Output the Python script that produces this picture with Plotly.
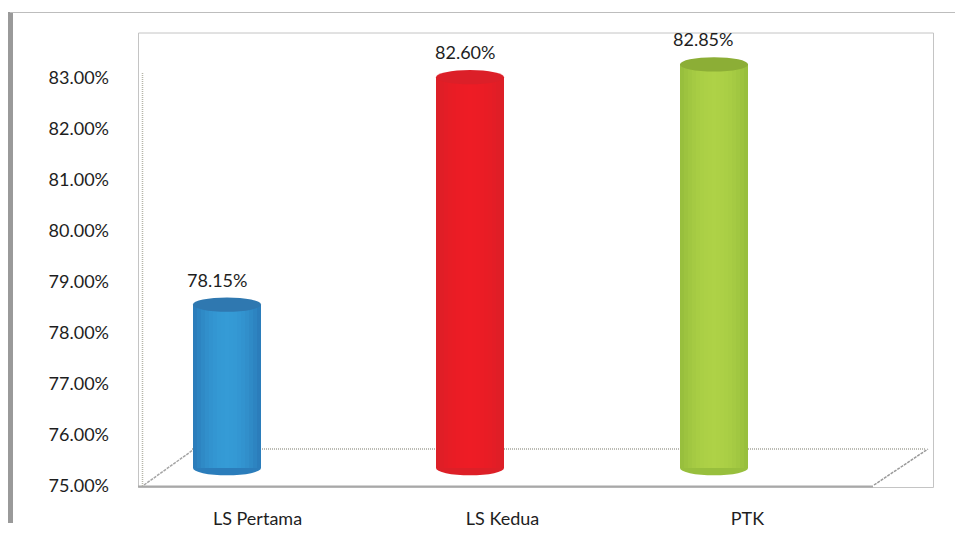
import plotly.graph_objects as go

categories = ["LS Pertama", "LS Kedua", "PTK"]
values = [78.15, 82.60, 82.85]
tick_values = [75, 76, 77, 78, 79, 80, 81, 82, 83]
tick_labels = ["75.00%", "76.00%", "77.00%", "78.00%", "79.00%", "80.00%", "81.00%", "82.00%", "83.00%"]
value_labels = ["78.15%", "82.60%", "82.85%"]

W, H = 955, 551
L, R, T, B = 135, 870, 33, 486
UNIT_PX = 51.1
ymax = 75 + (B - T) / UNIT_PX
xunit = (R - L) / 3

LIFT = 0.4        # 3-D lift of the bar top above its value
FLOOR = 75.35     # where the cylinders stand
CAP_H = 0.14
BAR_W = 68 / xunit
SHIFT = [-30.5 / xunit, -32.5 / xunit, -33.5 / xunit]
LABEL_SHIFT = [-41 / xunit, -37.5 / xunit, -45 / xunit]

edge_colors = [(0x2b, 0x7d, 0xbb), (0xdd, 0x1f, 0x27), (0x98, 0xbf, 0x3d)]
mid_colors = [(0x35, 0x9b, 0xd6), (0xee, 0x1c, 0x25), (0xae, 0xd2, 0x47)]
caps = ["#2f78b0", "#dc1f28", "#8cae36"]
N = 17


def shade(i, k):
    t = abs(k - (N - 1) / 2) / ((N - 1) / 2)
    t = t ** 2
    return "rgb(%d,%d,%d)" % tuple(m + (e - m) * t for m, e in zip(mid_colors[i], edge_colors[i]))


fig = go.Figure()
for k in range(N):
    fig.add_trace(go.Bar(
        x=categories,
        y=[v + LIFT - FLOOR for v in values],
        base=[FLOOR] * 3,
        width=[BAR_W / N * 1.05] * 3,
        offset=[s - BAR_W / 2 + k * BAR_W / N for s in SHIFT],
        marker=dict(color=[shade(i, k) for i in range(3)], line_width=0),
        showlegend=False,
        hoverinfo="skip",
    ))


def px_x(p):
    return (p - L) / (R - L)


def px_y(p):
    return (B - p) / (B - T)


shapes = [
    # page rules
    dict(type="rect", xref="paper", yref="paper", x0=px_x(8), x1=px_x(13), y0=px_y(523), y1=px_y(12),
         fillcolor="#9a9a9a", line_width=0, layer="below"),
    dict(type="line", xref="paper", yref="paper", x0=px_x(10), x1=px_x(955), y0=px_y(12.5), y1=px_y(12.5),
         line=dict(color="#bdbdbd", width=1), layer="below"),
    # chart frame
    dict(type="rect", xref="paper", yref="paper", x0=px_x(138.5), x1=px_x(933.5), y0=px_y(487.5), y1=px_y(33),
         line=dict(color="#c4c4c4", width=1), layer="below"),
    # 3-D floor and wall
    dict(type="line", xref="paper", yref="paper", x0=px_x(138), x1=px_x(873), y0=px_y(486.5), y1=px_y(486.5),
         line=dict(color="#a8a8a8", width=2), layer="below"),
    dict(type="line", xref="paper", yref="paper", x0=px_x(142.5), x1=px_x(142.5), y0=px_y(486), y1=px_y(72),
         line=dict(color="#b5b5a8", width=1.5, dash="1px,1px"), layer="below"),
    dict(type="line", xref="paper", yref="paper", x0=px_x(192), x1=px_x(926), y0=px_y(449), y1=px_y(449),
         line=dict(color="#a5a59c", width=1.5, dash="1px,1px"), layer="below"),
    dict(type="line", xref="paper", yref="paper", x0=px_x(144), x1=px_x(193), y0=px_y(485), y1=px_y(450),
         line=dict(color="#a5a5a5", width=1.5, dash="3px,1px"), layer="below"),
    dict(type="line", xref="paper", yref="paper", x0=px_x(874), x1=px_x(928), y0=px_y(485), y1=px_y(449),
         line=dict(color="#9a9a9a", width=1.5, dash="3px,1px"), layer="below"),
]

half = BAR_W / 2
for i, v in enumerate(values):
    cx = i + SHIFT[i]
    # rounded foot of the cylinder
    shapes.append(dict(type="circle", xref="x", yref="y", x0=cx - half, x1=cx + half,
                       y0=FLOOR - CAP_H, y1=FLOOR + CAP_H,
                       fillcolor="rgb(%d,%d,%d)" % edge_colors[i], line_width=0, layer="below"))
    # top cap
    top = v + LIFT
    shapes.append(dict(type="circle", xref="x", yref="y", x0=cx - half, x1=cx + half,
                       y0=top - CAP_H, y1=top + CAP_H,
                       fillcolor=caps[i], line_width=0, layer="above"))

annotations = [
    dict(x=i + LABEL_SHIFT[i], y=v + 0.89, xref="x", yref="y", text=value_labels[i], showarrow=False,
         font=dict(family="Lato", size=18, color="#1e1e1e"), xanchor="center", yanchor="middle")
    for i, v in enumerate(values)
]

fig.update_layout(
    width=W, height=H,
    margin=dict(l=L, r=W - R, t=T, b=H - B, autoexpand=False),
    paper_bgcolor="white", plot_bgcolor="rgba(0,0,0,0)",
    barmode="overlay", bargap=0,
    shapes=shapes, annotations=annotations,
    font=dict(family="Lato", size=18, color="#1e1e1e"),
    xaxis=dict(type="category", categoryorder="array", categoryarray=categories, range=[-0.5, 2.5],
               showgrid=False, showline=False, zeroline=False, ticks="", ticklabelstandoff=20,
               tickfont=dict(size=18)),
    yaxis=dict(range=[75, ymax], tickvals=tick_values, ticktext=tick_labels, showgrid=False,
               showline=False, zeroline=False, ticks="", ticklabelstandoff=25),
)
fig.write_html("out.html", config={"displayModeBar": False}, post_script="document.body.style.margin='0';")
